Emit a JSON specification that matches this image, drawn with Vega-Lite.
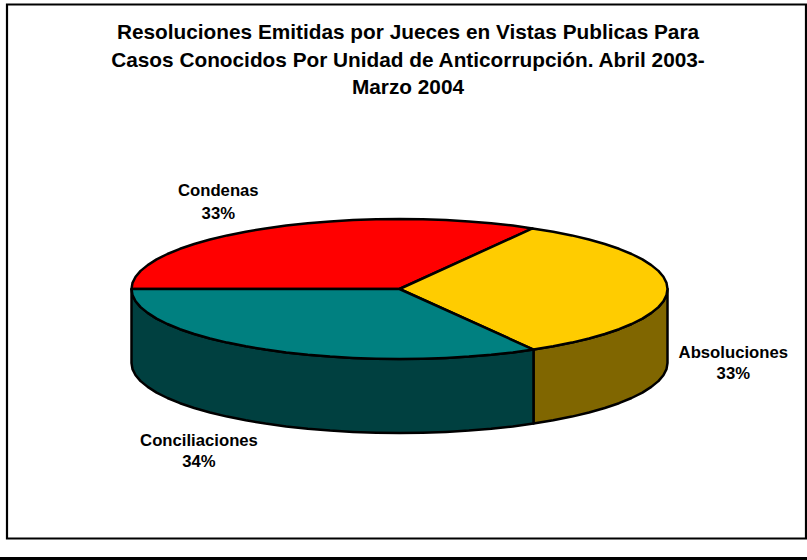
{"$schema":"https://vega.github.io/schema/vega-lite/v6.json","width":807,"height":560,"autosize":"none","padding":0,"background":"white","view":{"stroke":null},
"title":{"text":["Resoluciones Emitidas por Jueces en Vistas Publicas Para","Casos Conocidos Por Unidad de Anticorrupción. Abril 2003-","Marzo 2004"],"font":"Liberation Sans","fontSize":20.8,"fontWeight":"bold","color":"black","lineHeight":27.4,"anchor":"middle","dy":99,"dx":4.5,"offset":0},
"datasets":{
"frame":[{"u":-392.5,"u2":406.5,"v":284.5,"v2":-249.5}],
"bar":[{"u":-399.5,"u2":407.5,"v":-268,"v2":-271}],
"shape":[
{"p":"Absoluciones lado","i":0,"u":134,"v":-60.6},{"p":"Absoluciones lado","i":1,"u":153.7,"v":-57.3},{"p":"Absoluciones lado","i":2,"u":172.3,"v":-53.6},{"p":"Absoluciones lado","i":3,"u":189.5,"v":-49.5},{"p":"Absoluciones lado","i":4,"u":205.3,"v":-45},{"p":"Absoluciones lado","i":5,"u":219.5,"v":-40.2},{"p":"Absoluciones lado","i":6,"u":232.1,"v":-35},{"p":"Absoluciones lado","i":7,"u":242.9,"v":-29.6},{"p":"Absoluciones lado","i":8,"u":251.8,"v":-23.9},{"p":"Absoluciones lado","i":9,"u":258.9,"v":-18.1},{"p":"Absoluciones lado","i":10,"u":263.9,"v":-12.2},{"p":"Absoluciones lado","i":11,"u":267,"v":-6.1},{"p":"Absoluciones lado","i":12,"u":268,"v":0},
{"p":"Absoluciones lado","i":13,"u":268,"v":-74},{"p":"Absoluciones lado","i":14,"u":267,"v":-80.1},{"p":"Absoluciones lado","i":15,"u":263.9,"v":-86.2},{"p":"Absoluciones lado","i":16,"u":258.9,"v":-92.1},{"p":"Absoluciones lado","i":17,"u":251.8,"v":-97.9},{"p":"Absoluciones lado","i":18,"u":242.9,"v":-103.6},{"p":"Absoluciones lado","i":19,"u":232.1,"v":-109},{"p":"Absoluciones lado","i":20,"u":219.5,"v":-114.2},{"p":"Absoluciones lado","i":21,"u":205.3,"v":-119},{"p":"Absoluciones lado","i":22,"u":189.5,"v":-123.5},{"p":"Absoluciones lado","i":23,"u":172.3,"v":-127.6},{"p":"Absoluciones lado","i":24,"u":153.7,"v":-131.3},{"p":"Absoluciones lado","i":25,"u":134,"v":-134.6},{"p":"Absoluciones lado","i":26,"u":134,"v":-60.6},

{"p":"Conciliaciones lado","i":0,"u":-268,"v":0},{"p":"Conciliaciones lado","i":1,"u":-267,"v":-6.1},{"p":"Conciliaciones lado","i":2,"u":-263.9,"v":-12.2},{"p":"Conciliaciones lado","i":3,"u":-258.9,"v":-18.1},{"p":"Conciliaciones lado","i":4,"u":-251.8,"v":-23.9},{"p":"Conciliaciones lado","i":5,"u":-242.9,"v":-29.6},{"p":"Conciliaciones lado","i":6,"u":-232.1,"v":-35},{"p":"Conciliaciones lado","i":7,"u":-219.5,"v":-40.2},{"p":"Conciliaciones lado","i":8,"u":-205.3,"v":-45},{"p":"Conciliaciones lado","i":9,"u":-189.5,"v":-49.5},{"p":"Conciliaciones lado","i":10,"u":-172.3,"v":-53.6},{"p":"Conciliaciones lado","i":11,"u":-153.7,"v":-57.3},{"p":"Conciliaciones lado","i":12,"u":-134,"v":-60.6},{"p":"Conciliaciones lado","i":13,"u":-113.3,"v":-63.4},{"p":"Conciliaciones lado","i":14,"u":-91.7,"v":-65.8},{"p":"Conciliaciones lado","i":15,"u":-69.4,"v":-67.6},{"p":"Conciliaciones lado","i":16,"u":-46.5,"v":-68.9},{"p":"Conciliaciones lado","i":17,"u":-23.4,"v":-69.7},{"p":"Conciliaciones lado","i":18,"u":0,"v":-70},{"p":"Conciliaciones lado","i":19,"u":23.4,"v":-69.7},{"p":"Conciliaciones lado","i":20,"u":46.5,"v":-68.9},{"p":"Conciliaciones lado","i":21,"u":69.4,"v":-67.6},{"p":"Conciliaciones lado","i":22,"u":91.7,"v":-65.8},{"p":"Conciliaciones lado","i":23,"u":113.3,"v":-63.4},{"p":"Conciliaciones lado","i":24,"u":134,"v":-60.6},
{"p":"Conciliaciones lado","i":25,"u":134,"v":-134.6},{"p":"Conciliaciones lado","i":26,"u":113.3,"v":-137.4},{"p":"Conciliaciones lado","i":27,"u":91.7,"v":-139.8},{"p":"Conciliaciones lado","i":28,"u":69.4,"v":-141.6},{"p":"Conciliaciones lado","i":29,"u":46.5,"v":-142.9},{"p":"Conciliaciones lado","i":30,"u":23.4,"v":-143.7},{"p":"Conciliaciones lado","i":31,"u":0,"v":-144},{"p":"Conciliaciones lado","i":32,"u":-23.4,"v":-143.7},{"p":"Conciliaciones lado","i":33,"u":-46.5,"v":-142.9},{"p":"Conciliaciones lado","i":34,"u":-69.4,"v":-141.6},{"p":"Conciliaciones lado","i":35,"u":-91.7,"v":-139.8},{"p":"Conciliaciones lado","i":36,"u":-113.3,"v":-137.4},{"p":"Conciliaciones lado","i":37,"u":-134,"v":-134.6},{"p":"Conciliaciones lado","i":38,"u":-153.7,"v":-131.3},{"p":"Conciliaciones lado","i":39,"u":-172.3,"v":-127.6},{"p":"Conciliaciones lado","i":40,"u":-189.5,"v":-123.5},{"p":"Conciliaciones lado","i":41,"u":-205.3,"v":-119},{"p":"Conciliaciones lado","i":42,"u":-219.5,"v":-114.2},{"p":"Conciliaciones lado","i":43,"u":-232.1,"v":-109},{"p":"Conciliaciones lado","i":44,"u":-242.9,"v":-103.6},{"p":"Conciliaciones lado","i":45,"u":-251.8,"v":-97.9},{"p":"Conciliaciones lado","i":46,"u":-258.9,"v":-92.1},{"p":"Conciliaciones lado","i":47,"u":-263.9,"v":-86.2},{"p":"Conciliaciones lado","i":48,"u":-267,"v":-80.1},{"p":"Conciliaciones lado","i":49,"u":-268,"v":-74},{"p":"Conciliaciones lado","i":50,"u":-268,"v":0},

{"p":"Condenas","i":0,"u":0,"v":0},{"p":"Condenas","i":1,"u":133,"v":60.6},{"p":"Condenas","i":2,"u":113.3,"v":63.4},{"p":"Condenas","i":3,"u":91.7,"v":65.8},{"p":"Condenas","i":4,"u":69.4,"v":67.6},{"p":"Condenas","i":5,"u":46.5,"v":68.9},{"p":"Condenas","i":6,"u":23.4,"v":69.7},{"p":"Condenas","i":7,"u":0,"v":70},{"p":"Condenas","i":8,"u":-23.4,"v":69.7},{"p":"Condenas","i":9,"u":-46.5,"v":68.9},{"p":"Condenas","i":10,"u":-69.4,"v":67.6},{"p":"Condenas","i":11,"u":-91.7,"v":65.8},{"p":"Condenas","i":12,"u":-113.3,"v":63.4},{"p":"Condenas","i":13,"u":-134,"v":60.6},{"p":"Condenas","i":14,"u":-153.7,"v":57.3},{"p":"Condenas","i":15,"u":-172.3,"v":53.6},{"p":"Condenas","i":16,"u":-189.5,"v":49.5},{"p":"Condenas","i":17,"u":-205.3,"v":45},{"p":"Condenas","i":18,"u":-219.5,"v":40.2},{"p":"Condenas","i":19,"u":-232.1,"v":35},{"p":"Condenas","i":20,"u":-242.9,"v":29.6},{"p":"Condenas","i":21,"u":-251.8,"v":23.9},{"p":"Condenas","i":22,"u":-258.9,"v":18.1},{"p":"Condenas","i":23,"u":-263.9,"v":12.2},{"p":"Condenas","i":24,"u":-267,"v":6.1},{"p":"Condenas","i":25,"u":-268,"v":0},{"p":"Condenas","i":26,"u":0,"v":0},

{"p":"Absoluciones","i":0,"u":0,"v":0},{"p":"Absoluciones","i":1,"u":134,"v":-60.6},{"p":"Absoluciones","i":2,"u":153.7,"v":-57.3},{"p":"Absoluciones","i":3,"u":172.3,"v":-53.6},{"p":"Absoluciones","i":4,"u":189.5,"v":-49.5},{"p":"Absoluciones","i":5,"u":205.3,"v":-45},{"p":"Absoluciones","i":6,"u":219.5,"v":-40.2},{"p":"Absoluciones","i":7,"u":232.1,"v":-35},{"p":"Absoluciones","i":8,"u":242.9,"v":-29.6},{"p":"Absoluciones","i":9,"u":251.8,"v":-23.9},{"p":"Absoluciones","i":10,"u":258.9,"v":-18.1},{"p":"Absoluciones","i":11,"u":263.9,"v":-12.2},{"p":"Absoluciones","i":12,"u":267,"v":-6.1},{"p":"Absoluciones","i":13,"u":268,"v":0},{"p":"Absoluciones","i":14,"u":267,"v":6.1},{"p":"Absoluciones","i":15,"u":263.9,"v":12.2},{"p":"Absoluciones","i":16,"u":258.9,"v":18.1},{"p":"Absoluciones","i":17,"u":251.8,"v":23.9},{"p":"Absoluciones","i":18,"u":242.9,"v":29.6},{"p":"Absoluciones","i":19,"u":232.1,"v":35},{"p":"Absoluciones","i":20,"u":219.5,"v":40.2},{"p":"Absoluciones","i":21,"u":205.3,"v":45},{"p":"Absoluciones","i":22,"u":189.5,"v":49.5},{"p":"Absoluciones","i":23,"u":172.3,"v":53.6},{"p":"Absoluciones","i":24,"u":153.7,"v":57.3},{"p":"Absoluciones","i":25,"u":133,"v":60.6},{"p":"Absoluciones","i":26,"u":0,"v":0},

{"p":"Conciliaciones","i":0,"u":0,"v":0},{"p":"Conciliaciones","i":1,"u":-268,"v":0},{"p":"Conciliaciones","i":2,"u":-267,"v":-6.1},{"p":"Conciliaciones","i":3,"u":-263.9,"v":-12.2},{"p":"Conciliaciones","i":4,"u":-258.9,"v":-18.1},{"p":"Conciliaciones","i":5,"u":-251.8,"v":-23.9},{"p":"Conciliaciones","i":6,"u":-242.9,"v":-29.6},{"p":"Conciliaciones","i":7,"u":-232.1,"v":-35},{"p":"Conciliaciones","i":8,"u":-219.5,"v":-40.2},{"p":"Conciliaciones","i":9,"u":-205.3,"v":-45},{"p":"Conciliaciones","i":10,"u":-189.5,"v":-49.5},{"p":"Conciliaciones","i":11,"u":-172.3,"v":-53.6},{"p":"Conciliaciones","i":12,"u":-153.7,"v":-57.3},{"p":"Conciliaciones","i":13,"u":-134,"v":-60.6},{"p":"Conciliaciones","i":14,"u":-113.3,"v":-63.4},{"p":"Conciliaciones","i":15,"u":-91.7,"v":-65.8},{"p":"Conciliaciones","i":16,"u":-69.4,"v":-67.6},{"p":"Conciliaciones","i":17,"u":-46.5,"v":-68.9},{"p":"Conciliaciones","i":18,"u":-23.4,"v":-69.7},{"p":"Conciliaciones","i":19,"u":0,"v":-70},{"p":"Conciliaciones","i":20,"u":23.4,"v":-69.7},{"p":"Conciliaciones","i":21,"u":46.5,"v":-68.9},{"p":"Conciliaciones","i":22,"u":69.4,"v":-67.6},{"p":"Conciliaciones","i":23,"u":91.7,"v":-65.8},{"p":"Conciliaciones","i":24,"u":113.3,"v":-63.4},{"p":"Conciliaciones","i":25,"u":134,"v":-60.6},{"p":"Conciliaciones","i":26,"u":0,"v":0}
],
"labels":[
{"t":"Condenas","u":-181.2,"v":98},{"t":"33%","u":-181.2,"v":75.3},
{"t":"Absoluciones","u":333.8,"v":-64.3},{"t":"33%","u":333.8,"v":-85},
{"t":"Conciliaciones","u":-200.5,"v":-151.7},{"t":"34%","u":-200.5,"v":-173.3}
]},
"layer":[
{"data":{"name":"frame"},"mark":{"type":"rect","fill":"white","stroke":"black","strokeWidth":2.2},"encoding":{"x":{"field":"u","type":"quantitative","scale":{"domain":[-399.5,407.5],"nice":false,"zero":false},"axis":null},"x2":{"field":"u2"},"y":{"field":"v","type":"quantitative","scale":{"domain":[-271,289],"nice":false,"zero":false},"axis":null},"y2":{"field":"v2"}}},
{"data":{"name":"bar"},"mark":{"type":"rect","fill":"black"},"encoding":{"x":{"field":"u","type":"quantitative","axis":null},"x2":{"field":"u2"},"y":{"field":"v","type":"quantitative","axis":null},"y2":{"field":"v2"}}},
{"data":{"name":"shape"},"mark":{"type":"line","stroke":"black","strokeWidth":2.5,"strokeJoin":"round","tooltip":null},"encoding":{"x":{"field":"u","type":"quantitative","axis":null},"y":{"field":"v","type":"quantitative","axis":null},"order":{"field":"i","type":"quantitative"},"fill":{"field":"p","type":"nominal","legend":null,"sort":null,"scale":{"domain":["Absoluciones lado","Conciliaciones lado","Condenas","Absoluciones","Conciliaciones"],"range":["#806600","#004040","#FF0000","#FFCC00","#008080"]}}}},
{"data":{"name":"labels"},"mark":{"type":"text","font":"Liberation Sans","fontSize":16.7,"fontWeight":"bold","color":"black","align":"center","baseline":"middle"},"encoding":{"x":{"field":"u","type":"quantitative","axis":null},"y":{"field":"v","type":"quantitative","axis":null},"text":{"field":"t","type":"nominal"}}}
],
"resolve":{"scale":{"x":"shared","y":"shared"}}}
